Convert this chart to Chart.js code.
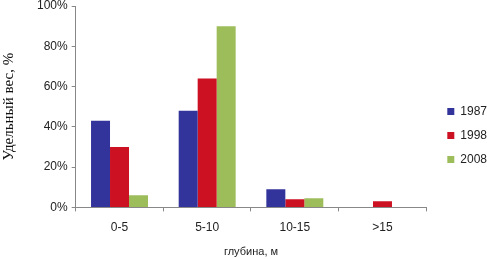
<!DOCTYPE html>
<html>
<head>
<meta charset="utf-8">
<script src="https://cdn.jsdelivr.net/npm/chart.js@4"></script>
<style>
  html, body { margin: 0; padding: 0; background: #fff; }
  #wrap { width: 487px; height: 259px; }
</style>
</head>
<body>
<div id="wrap"><canvas id="depth_chart"></canvas></div>
<script>
  var categories = ["0-5", "5-10", "10-15", ">15"];
  var years = ["1987", "1998", "2008"];
  var values1987 = [43, 48, 9, 0];
  var values1998 = [30, 64, 4, 3];
  var values2008 = [6, 90, 4.5, 0];
  var yTicks = [0, 20, 40, 60, 80, 100];

  // nudge the legend a bit away from the plot, like the original
  var legendShift = {
    id: "legendShift",
    afterLayout: function(chart) {
      chart.legend.left += 9;
      chart.legend.right += 9;
      chart.legend.top += 3;
      chart.legend.bottom += 3;
    },
  };

  var ctx = document.getElementById("depth_chart").getContext("2d");

  window.myBar = new Chart(ctx, {
    type: "bar",
    data: {
      labels: categories,
      datasets: [
        { label: years[0], backgroundColor: "#33339c", data: values1987 },
        { label: years[1], backgroundColor: "#cc1122", data: values1998 },
        { label: years[2], backgroundColor: "#9dbd5b", data: values2008 },
      ],
    },
    plugins: [legendShift],
    options: {
      responsive: true,
      maintainAspectRatio: false,
      animation: false,
      datasets: {
        bar: { barPercentage: 1, categoryPercentage: 0.65 },
      },
      layout: { padding: { top: 6, right: -1, bottom: 0, left: 0 } },
      scales: {
        x: {
          grid: {
            display: true,
            drawOnChartArea: false,
            color: "#888",
            tickLength: 4,
          },
          border: { color: "#888" },
          ticks: { color: "#222", font: { family: "Liberation Sans", size: 12 }, padding: 9 },
          title: {
            display: true,
            text: "глубина, м",
            color: "#222",
            font: { family: "Liberation Sans", size: 11 },
            padding: { top: 2, bottom: 0 },
          },
        },
        y: {
          min: 0,
          max: 100,
          afterBuildTicks: function(axis) {
            axis.ticks = yTicks.map(function(v) { return { value: v }; });
          },
          afterFit: function(axis) {
            axis.paddingTop = 0;
          },
          grid: {
            display: true,
            drawOnChartArea: false,
            color: "#888",
            tickLength: 4,
          },
          border: { color: "#888" },
          ticks: {
            color: "#222",
            font: { family: "Liberation Sans", size: 12 },
            padding: 4,
            callback: function(value) { return value + "%"; },
          },
          title: {
            display: true,
            text: "Удельный вес, %",
            color: "#111",
            font: { family: "Liberation Serif", size: 15 },
            padding: { top: 0, bottom: 15 },
          },
        },
      },
      plugins: {
        tooltip: { enabled: false },
        legend: {
          position: "right",
          labels: {
            boxWidth: 7,
            boxHeight: 7,
            padding: 12,
            color: "#222",
            font: { family: "Liberation Sans", size: 12 },
          },
        },
      },
    },
  });
</script>
</body>
</html>
